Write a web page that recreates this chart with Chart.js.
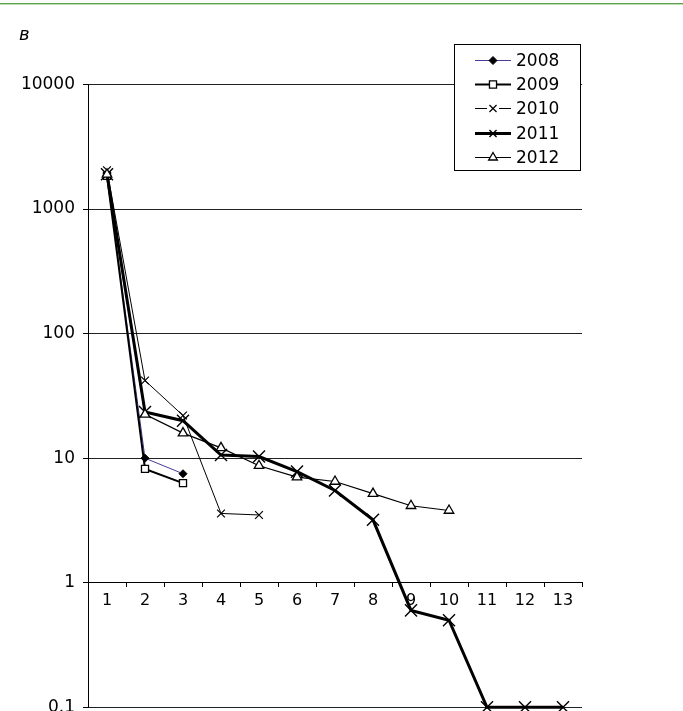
<!DOCTYPE html>
<html>
<head>
<meta charset="utf-8">
<script src="https://cdn.jsdelivr.net/npm/chart.js@4/dist/chart.umd.min.js"></script>
<style>
  html, body { margin: 0; padding: 0; background: #fff; overflow: hidden; width: 683px; height: 711px; }
  #wrap { position: relative; width: 683px; height: 730px; }
  canvas { position: absolute; left: 0; top: 0; }
  #rule1 { position: absolute; left: 0; top: 3px; width: 683px; height: 1px; background: #5d9f4d; }
  #rule2 { position: absolute; left: 0; top: 4px; width: 683px; height: 1px; background: #bfe0b6; }
  #panel { position: absolute; left: 19px; top: 23px; font: italic 18px "DejaVu Sans", sans-serif; color: #000; }
</style>
</head>
<body>
<div id="wrap">
  <canvas id="c" width="683" height="730"></canvas>
  <div id="rule1"></div>
  <div id="rule2"></div>
  <div id="panel">в</div>
</div>
<script>
// Categories along the x axis
const categories = ['1', '2', '3', '4', '5', '6', '7', '8', '9', '10', '11', '12', '13'];
const years = ['2008', '2009', '2010', '2011', '2012'];

// Series values (log scale)
const values2008 = [1850, 10, 7.5];
const values2009 = [1850, 8.2, 6.3];
const values2010 = [2050, 42, 22, 3.6, 3.5];
const values2011 = [1900, 23.5, 20, 10.6, 10.3, 7.8, 5.5, 3.2, 0.6, 0.5, 0.1, 0.1, 0.1];
const values2012 = [1900, 22.5, 15.9, 12.1, 8.7, 7.05, 6.5, 5.2, 4.15, 3.8];

// Decade ticks on the y axis
const yTicks = [0.1, 1, 10, 100, 1000, 10000];

const FONT = '"DejaVu Sans", sans-serif';
Chart.defaults.color = '#000';
Chart.defaults.font.family = FONT;

const seriesValues = [values2008, values2009, values2010, values2011, values2012];
const styles = [
  { line: '#4b3b95', width: 1,   point: 'rectRot',  r: 4,   fill: '#000', bw: 1,   legendR: 4 },
  { line: '#000',    width: 2,   point: 'rect',     r: 5,   fill: '#fff', bw: 1.3, legendR: 5 },
  { line: '#000',    width: 1,   point: 'crossRot', r: 5.5, fill: '#000', bw: 1.2, legendR: 5, gap: true },
  { line: '#000',    width: 3,   point: 'crossRot', r: 8.5, fill: '#000', bw: 1.4, legendR: 5 },
  { line: '#000',    width: 1.2, point: 'triangle', r: 5.5, fill: '#fff', bw: 1.3, legendR: 5 }
];

const datasets = years.map((y, i) => ({
  label: y,
  data: seriesValues[i],
  borderColor: styles[i].line,
  borderWidth: styles[i].width,
  pointStyle: styles[i].point,
  pointRadius: styles[i].r,
  pointBackgroundColor: styles[i].fill,
  pointBorderColor: '#000',
  pointBorderWidth: styles[i].bw,
  tension: 0,
  fill: false,
  clip: false,
  order: years.length - i
}));

// Framed legend with line + marker samples
const boxLegend = {
  id: 'boxLegend',
  afterDraw(chart) {
    const ctx = chart.ctx;
    const L = 454, T = 44, W = 126, H = 126;
    ctx.save();
    ctx.fillStyle = '#fff';
    ctx.fillRect(L, T, W, H);
    ctx.strokeStyle = '#000';
    ctx.lineWidth = 1;
    ctx.strokeRect(L + 0.5, T + 0.5, W, H);
    ctx.font = '17px ' + FONT;
    ctx.textBaseline = 'middle';
    ctx.textAlign = 'left';
    chart.data.datasets.forEach((ds, i) => {
      const st = styles[i];
      const y = Math.round(60 + i * 24.2) + 0.5;
      const x0 = 475, x1 = 511, xm = 493;
      ctx.strokeStyle = st.line;
      ctx.lineWidth = st.width;
      ctx.beginPath();
      if (st.gap) {
        ctx.moveTo(x0, y); ctx.lineTo(xm - 6, y);
        ctx.moveTo(xm + 6, y); ctx.lineTo(x1, y);
      } else {
        ctx.moveTo(x0, y); ctx.lineTo(x1, y);
      }
      ctx.stroke();
      ctx.fillStyle = st.fill;
      ctx.strokeStyle = '#000';
      ctx.lineWidth = st.bw;
      Chart.helpers.drawPoint(ctx, { pointStyle: st.point, radius: st.legendR, rotation: 0, borderWidth: st.bw }, xm, y);
      ctx.fillStyle = '#000';
      ctx.fillText(ds.label, 516, y + 1);
    });
    ctx.restore();
  }
};

new Chart(document.getElementById('c'), {
  type: 'line',
  data: { labels: categories, datasets },
  options: {
    responsive: false,
    animation: false,
    layout: { padding: { top: 84.5, right: 101, bottom: 22.7, left: 0 } },
    plugins: { legend: { display: false }, tooltip: { enabled: false } },
    scales: {
      x: {
        type: 'category',
        position: { y: 1 },
        offset: true,
        grid: { display: true, offset: true, drawOnChartArea: false, drawTicks: true, tickLength: 4, tickColor: '#000', color: '#000' },
        border: { display: true, color: '#000', width: 1 },
        ticks: { font: { size: 16, family: FONT }, color: '#000', padding: 5, autoSkip: false, maxRotation: 0 }
      },
      y: {
        type: 'logarithmic',
        position: 'left',
        min: 0.1,
        max: 10000,
        afterBuildTicks(scale) { scale.ticks = yTicks.map(v => ({ value: v })); },
        afterFit(scale) { scale.width = 88; },
        grid: { color: '#222', lineWidth: 1, drawTicks: true, tickLength: 5, tickColor: '#000' },
        border: { display: true, color: '#000', width: 1 },
        ticks: { font: { size: 17, family: FONT }, color: '#000', padding: 8, callback: v => String(v) }
      }
    }
  },
  plugins: [boxLegend]
});
</script>
</body>
</html>
